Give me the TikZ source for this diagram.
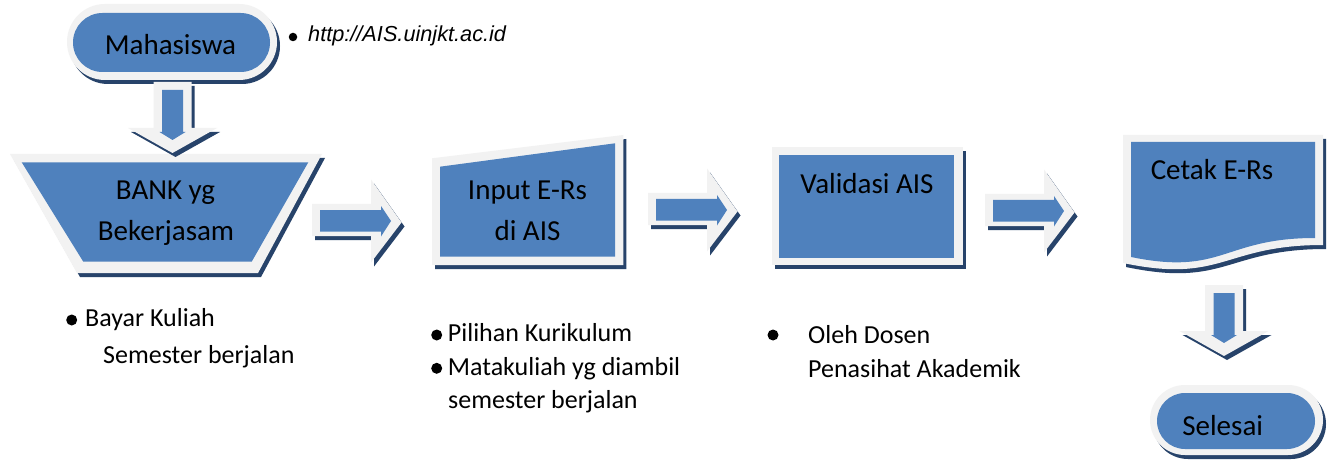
\documentclass[tikz,border=0pt]{standalone}
\usepackage{fontspec}
\setmainfont{Carlito}
\newfontfamily\urlfont{Liberation Sans}
\definecolor{boxblue}{HTML}{4F81BD}
\definecolor{rimgray}{HTML}{F2F2F2}
\definecolor{shadenavy}{HTML}{27436A}
\newcommand\tribox[2]{%
  \fill[shadenavy, shift={(3,4)}] #1;
  \fill[rimgray] #1;
  \fill[boxblue] #2;}
\begin{document}
\begin{tikzpicture}[x=1pt,y=-1pt,
  boxtext/.style={font=\fontsize{29}{35}\selectfont, inner sep=0pt, anchor=base},
  listtext/.style={font=\fontsize{26}{31}\selectfont, inner sep=0pt, anchor=base west},
  urltext/.style={font=\urlfont\itshape\fontsize{21.7}{26}\selectfont, inner sep=0pt, anchor=base west},
  bulletdot/.style={circle, fill=black, inner sep=0pt, minimum size=11pt},
  rightarrow/.pic={\tribox{(0,-17) -- (59,-17) -- (59,-41.5) -- (89.5,1.5) -- (59,41.5) -- (59,15) -- (0,15) -- cycle}{(8,-11) -- (69,-11) -- (69,-15) -- (79,0) -- (69,15.5) -- (69,10.5) -- (8,10.5) -- cycle}},
  downarrow/.pic={\tribox{(-19,0) -- (19,0) -- (19,46) -- (44.5,46) -- (0,71) -- (-44.5,46) -- (-19,46) -- cycle}{(-10.5,8) -- (10.5,8) -- (10.5,50) -- (13,50) -- (0,58) -- (-13,50) -- (-10.5,50) -- cycle}}
]
\useasboundingbox (0,0) rectangle (1327,465);
\fill[white] (0,0) rectangle (1327,465);

% Mahasiswa (terminator)
\tribox{[rounded corners=38pt] (67,4) rectangle (277,80)}{[rounded corners=29.5pt] (73,13) rectangle (270,72)}
\node[boxtext] (mhs) at (170.5,55) {Mahasiswa};

% BANK (manual operation)
\tribox{(10,154) -- (322,154) -- (258,273) -- (77,273) -- cycle}{(21.7,162.3) -- (308.3,162.3) -- (251.7,261.7) -- (83.3,261.7) -- cycle}
\node[boxtext] (bank) at (165.5,200) {BANK yg};
\node[boxtext] (bank2) at (166,240) {Bekerjasam};

% arrow Mahasiswa -> BANK
\pic at (172.5,82) {downarrow};

% Input E-Rs (manual input)
\tribox{(432,158.3) -- (623.3,135) -- (623.3,265) -- (432,265) -- cycle}{(440,166.7) -- (615,143.3) -- (615,256.7) -- (440,256.7) -- cycle}
\node[boxtext] (input) at (527.5,200) {Input E-Rs};
\node[boxtext] (input2) at (527.5,240) {di AIS};

% Validasi AIS (process)
\tribox{(772,147) rectangle (963,265)}{(779,155) rectangle (954,258)}
\node[boxtext] (valid) at (867,193.3) {Validasi AIS};

% Cetak E-Rs (document)
\tribox{(1123,135) -- (1323,135) -- (1323,245) .. controls (1223,245) and (1223,284) .. (1123,263) -- cycle}{(1131,142) -- (1315,142) -- (1315,238) .. controls (1223,238) and (1223,276) .. (1131,257) -- cycle}
\node[boxtext] (cetak) at (1212,180) {Cetak E-Rs};

% Selesai (terminator)
\tribox{[rounded corners=35pt] (1150,385) rectangle (1323,455)}{[rounded corners=28pt] (1157,393) rectangle (1315,449)}
\node[boxtext] (selesai) at (1222.7,435) {Selesai};

% block arrows between steps
\pic at (312,221) {rightarrow};
\pic at (648,210) {rightarrow};
\pic at (985,211) {rightarrow};
\pic at (1224,285) {downarrow};

% URL note
\node[bulletdot, minimum size=8.5pt] (urldot) at (293,37) {};
\node[urltext] (url) at (308,41.7) {http://AIS.uinjkt.ac.id};

% notes under BANK
\node[bulletdot] (d1) at (71.7,320) {};
\node[listtext] (n1) at (85,326.7) {Bayar Kuliah};
\node[listtext] (n2) at (103,363.3) {Semester berjalan};

% notes under Input
\node[bulletdot] (d2) at (436.7,335) {};
\node[listtext] (n3) at (447.7,341.7) {Pilihan Kurikulum};
\node[bulletdot] (d3) at (436.7,368.3) {};
\node[listtext] (n4) at (447.7,375) {Matakuliah yg diambil};
\node[listtext] (n5) at (448,408.3) {semester berjalan};

% notes under Validasi
\node[bulletdot] (d4) at (773,335) {};
\node[listtext] (n6) at (808,343.3) {Oleh Dosen};
\node[listtext] (n7) at (808,377.5) {Penasihat Akademik};
\end{tikzpicture}
\end{document}
